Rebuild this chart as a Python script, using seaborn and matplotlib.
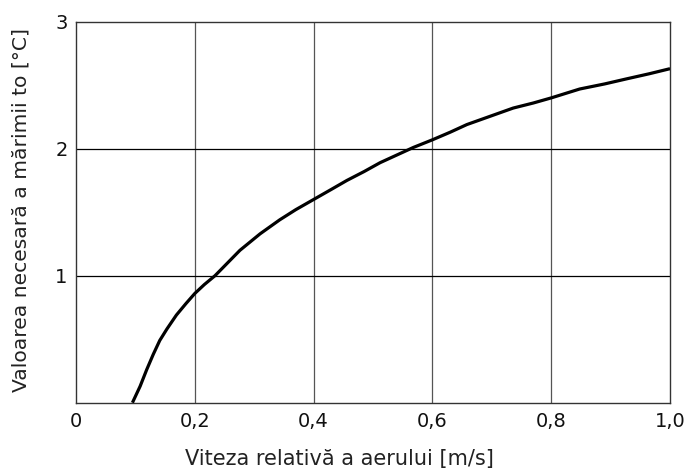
import matplotlib
matplotlib.use("Agg")
import matplotlib.pyplot as plt
import seaborn as sns
import pandas as pd

# Data
viteza = [0.095, 0.108, 0.119, 0.130, 0.141, 0.153, 0.169, 0.185, 0.2, 0.216, 0.234,
          0.255, 0.276, 0.31, 0.343, 0.37, 0.4, 0.43, 0.456, 0.485, 0.512, 0.54,
          0.568, 0.6, 0.63, 0.658, 0.7, 0.736, 0.77, 0.8, 0.848, 0.89, 0.927, 0.965, 1.0]
valoare = [0.0, 0.13, 0.26, 0.38, 0.49, 0.58, 0.69, 0.78, 0.86, 0.93, 1.0,
           1.10, 1.20, 1.33, 1.44, 1.52, 1.60, 1.68, 1.75, 1.82, 1.89, 1.95,
           2.01, 2.07, 2.13, 2.19, 2.26, 2.32, 2.36, 2.40, 2.47, 2.51, 2.55, 2.59, 2.63]
x_ticks = [0, 0.2, 0.4, 0.6, 0.8, 1.0]
x_ticklabels = ["0", "0,2", "0,4", "0,6", "0,8", "1,0"]
y_ticks = [1, 2, 3]
y_ticklabels = ["1", "2", "3"]

sns.set_theme(style="white")
plt.rcParams['font.family'] = ['DejaVu Sans']

df = pd.DataFrame({"v": viteza, "t": valoare})

W, H = 686, 470
fig = plt.figure(figsize=(W / 100, H / 100), dpi=100)
ax = fig.add_axes([76 / W, 1 - 402.7 / H, 594 / W, 381 / H])

for xt in x_ticks[1:-1]:
    ax.axvline(xt, color="#555555", lw=0.9, zorder=1)
for yt in y_ticks[:-1]:
    ax.axhline(yt, color="black", lw=0.9, zorder=1)

sns.lineplot(data=df, x="v", y="t", ax=ax, color="black", lw=2.3, zorder=3,
             solid_joinstyle="round", solid_capstyle="butt")

ax.set_xlim(0, 1.0)
ax.set_ylim(0, 3)
ax.set_xticks(x_ticks)
ax.set_xticklabels(x_ticklabels)
ax.set_yticks(y_ticks)
ax.set_yticklabels(y_ticklabels)
ax.tick_params(axis="both", length=0, labelsize=14, colors="#111111")
ax.tick_params(axis="x", pad=7)
ax.tick_params(axis="y", pad=6)
for s in ax.spines.values():
    s.set_color("#333333")
    s.set_linewidth(1.0)

ax.set_xlabel("Viteza relativă a aerului [m/s]", fontsize=15, color="#222222")
ax.xaxis.set_label_coords(339 / W, 1 - 459 / H, transform=fig.transFigure)
ax.xaxis.label.set_verticalalignment("center")
ax.set_ylabel("Valoarea necesară a mărimii to [°C]", fontsize=14.6, color="#222222")
ax.yaxis.set_label_coords(21 / W, 1 - 210 / H, transform=fig.transFigure)
ax.yaxis.label.set_verticalalignment("center")

fig.savefig("out.png", dpi=100)
